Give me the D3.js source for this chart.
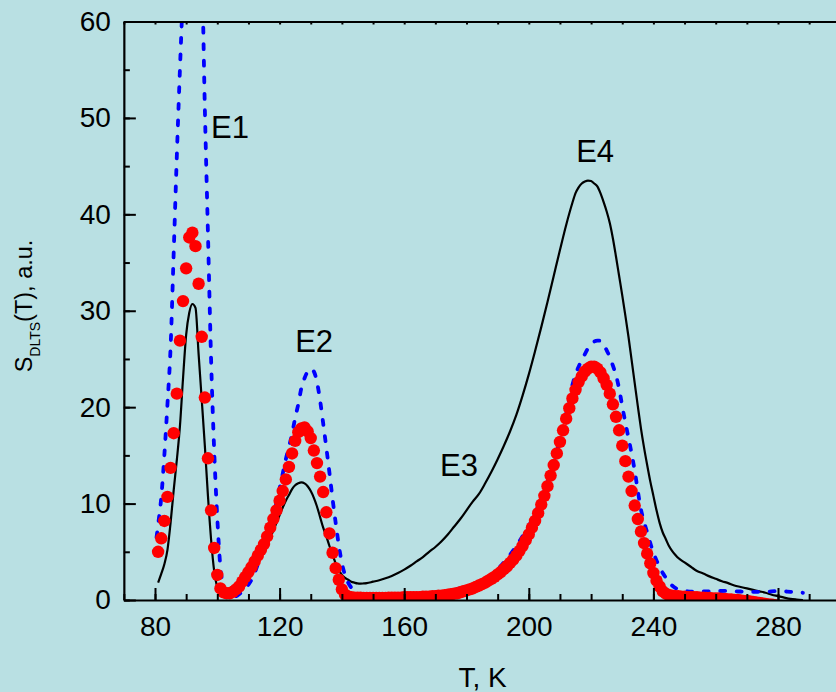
<!DOCTYPE html>
<html>
<head>
<meta charset="utf-8">
<script src="https://cdn.jsdelivr.net/npm/d3@7/dist/d3.min.js"></script>
<style>
  html, body { margin: 0; padding: 0; background: #b9e0e3; }
  svg { display: block; }
  text { font-family: Arial, "Liberation Sans", sans-serif; fill: #000; }
</style>
</head>
<body>
<svg id="chart" width="836" height="692"></svg>
<script>
// DLTS spectra S_DLTS(T): measured curve (black), model curve (blue dashed), fitted points (red)

// Measured spectrum, [T (K), signal]
const measured = [
  [81,1.8],[82,2.7],[83,3.7],[84,5.2],[85,8.0],[86,11.4],[87,14.5],[88,18.0],[89,23.0],[90,27.5],
  [91,29.8],[92,30.7],[93,30.3],[94,25.5],[95,20.8],[96,16.0],[97,10.8],[98,6.3],[99,3.0],[100,1.3],
  [101,0.6],[102,0.4],[103,0.35],[104,0.4],[105,0.55],[106,0.8],[107,1.1],[108,1.5],[109,1.9],[110,2.4],
  [111,2.9],[112,3.4],[113,3.9],[114,4.5],[115,5.1],[116,5.8],[117,6.5],[118,7.2],[119,8.0],[120,8.8],
  [121,9.6],[122,10.3],[123,10.9],[124,11.5],[125,11.9],[126,12.1],[127,12.2],[128,12.1],[129,11.8],[130,11.3],
  [131,10.6],[132,9.7],[133,8.6],[134,7.5],[135,6.6],[136,5.6],[137,4.7],[138,3.8],[139,3.1],[140,2.6],
  [141,2.3],[142,2.1],[143,1.9],[144,1.8],[145,1.72],[146,1.7],[147,1.72],[148,1.75],[150,1.9],[152,2.05],
  [154,2.25],[156,2.5],[158,2.8],[160,3.15],[162,3.55],[164,4.0],[166,4.45],[168,5.0],[170,5.5],[172,6.1],
  [174,6.8],[176,7.6],[178,8.4],[180,9.3],[182,10.2],[184,11.0],[186,12.1],[188,13.3],[190,14.6],[192,16.0],
  [194,17.5],[196,19.2],[198,21.2],[200,23.4],[202,25.8],[204,28.3],[206,30.9],[208,33.6],[210,36.3],[212,38.9],
  [214,41.2],[215,42.2],[216,42.8],[217,43.2],[218,43.4],[219,43.5],[220,43.45],[221,43.2],[222,42.9],[223,42.2],
  [224,41.3],[225,40.3],[226,39.1],[227,37.5],[228,35.6],[229,33.6],[230,31.6],[231,29.5],[232,27.3],[233,24.9],
  [234,22.5],[235,20.1],[236,17.8],[237,15.8],[238,14.0],[239,12.3],[240,10.8],[241,9.3],[242,8.0],[243,7.0],
  [244,6.3],[245,5.6],[246,5.1],[247,4.7],[248,4.35],[250,3.9],[252,3.45],[254,3.0],[256,2.75],[258,2.45],
  [260,2.2],[262,1.95],[264,1.75],[266,1.5],[268,1.35],[270,1.2],[272,1.05],[274,0.9],[276,0.75],[278,0.55],
  [280,0.4],[282,0.25],[284,0.12],[286,0.05],[288,0.0]
];

// Model spectrum, [T (K), signal]; the E1 top runs past the frame
const model = [
  [80.5,6.5],[81,7.8],[82,10.6],[83,15.0],[84,20.3],[85,26.2],[86,36.0],[87,46.0],[88,55.0],[89,63.0],
  [90,69],[91,72],[92,73],[93,72],[94,70],[95,66],[96,51],[97,38],[98,25],[99,15.5],
  [100,8.5],[101,3.4],[102,1.4],[103,0.7],[104,0.45],[105,0.35],[106,0.4],[107,0.6],[108,0.9],[109,1.2],
  [110,1.6],[111,2.1],[112,2.8],[113,3.7],[114,4.7],[115,5.8],[116,6.8],[117,7.7],[118,8.7],[119,10.1],
  [120,11.6],[121,13.1],[122,14.6],[123,15.9],[124,17.2],[125,18.9],[126,20.3],[127,22.0],[128,23.0],[129,23.7],
  [130,24.0],[131,23.7],[132,22.6],[133,20.7],[134,18.3],[135,15.8],[136,13.2],[137,10.5],[138,8.0],[139,5.7],
  [140,3.8],[141,2.6],[142,1.8],[143,1.3],[144,1.0],[145,0.7],[146,0.5],[147,0.4],[148,0.35],[150,0.3],
  [155,0.3],[160,0.3],[165,0.35],[168,0.45],[170,0.55],[172,0.7],[174,0.9],[176,1.1],[178,1.2],[180,1.35],
  [182,1.5],[184,1.8],[186,2.1],[188,2.6],[190,3.2],[192,3.9],[194,4.7],[196,5.6],[198,6.6],[200,7.7],
  [201,8.3],[202,9.0],[203,9.7],[204,10.5],[205,11.3],[206,12.2],[207,13.2],[208,14.3],[209,15.4],[210,16.6],
  [211,17.9],[212,19.3],[213,20.8],[214,22.3],[215,23.4],[216,24.2],[217,24.9],[218,25.5],[219,26.1],[220,26.5],
  [221,26.8],[222,26.9],[223,26.9],[224,26.5],[225,25.9],[226,25.2],[227,24.3],[228,23.3],[229,21.9],[230,20.1],
  [231,18.4],[232,16.8],[233,15.2],[234,13.4],[235,11.3],[236,9.4],[237,8.1],[238,7.0],[239,5.9],[240,4.9],
  [241,4.1],[242,3.4],[243,2.8],[244,2.3],[245,1.8],[246,1.5],[247,1.25],[248,1.1],[250,0.95],[253,0.85],
  [256,0.88],[260,0.92],[264,0.95],[268,0.88],[272,0.85],[276,0.86],[280,0.92],[284,0.85],[288,0.75]
];

// Fitted points, one every 1 K starting at 81 K
const fitStartT = 81;
const fitValues = [
  5.0, 6.4, 8.2, 10.7, 13.7, 17.3, 21.4, 26.9, 31.0, 34.4,          // 81-90
  37.6, 38.1, 36.7, 32.8, 27.3, 21.0, 14.7, 9.3, 5.4, 2.6,          // 91-100
  1.2, 0.8, 0.7, 0.7, 0.85, 1.1, 1.4, 1.9, 2.4, 2.9,                // 101-110
  3.4, 4.0, 4.6, 5.2, 5.8, 6.6, 7.5, 8.4, 9.3, 10.3,                // 111-120
  11.3, 12.5, 13.8, 15.2, 16.5, 17.4, 17.8, 17.9, 17.5, 16.8,       // 121-130
  15.5, 14.2, 12.8, 11.2, 9.1, 6.9, 4.9, 3.3, 2.1, 1.1,             // 131-140
  0.55, 0.35, 0.3, 0.25, 0.25, 0.25, 0.2, 0.2, 0.2, 0.2,            // 141-150
  0.2, 0.2, 0.2, 0.2, 0.25, 0.25, 0.25, 0.25, 0.25, 0.3,            // 151-160
  0.3, 0.3, 0.3, 0.3, 0.3, 0.35, 0.35, 0.35, 0.4, 0.4,              // 161-170
  0.45, 0.45, 0.5, 0.55, 0.6, 0.65, 0.7, 0.8, 0.9, 1.0,             // 171-180
  1.1, 1.2, 1.35, 1.5, 1.65, 1.8, 2.0, 2.2, 2.4, 2.65,              // 181-190
  2.9, 3.2, 3.5, 3.85, 4.2, 4.6, 5.1, 5.6, 6.2, 6.8,                // 191-200
  7.5, 8.2, 9.0, 9.9, 10.8, 11.8, 12.9, 14.0, 15.2, 16.4,           // 201-210
  17.6, 18.8, 19.9, 20.9, 21.8, 22.6, 23.2, 23.7, 24.0, 24.2,       // 211-220
  24.2, 24.0, 23.6, 23.0, 22.3, 21.4, 20.3, 19.0, 17.6, 16.0,       // 221-230
  14.4, 12.8, 11.3, 9.8, 8.4, 7.1, 5.9, 4.8, 3.8, 2.8,              // 231-240
  2.0, 1.4, 0.9, 0.65, 0.5, 0.45, 0.4, 0.4, 0.35, 0.35,             // 241-250
  0.3, 0.3, 0.3, 0.3, 0.25, 0.25, 0.2, 0.2, 0.15, 0.15,             // 251-260
  0.15, 0.1, 0.1, 0.05, 0.05, 0.0, 0.0, -0.05, -0.1, -0.1,          // 261-270
  -0.15, -0.2, -0.25, -0.3, -0.35, -0.4, -0.45, -0.5, -0.55, -0.6,  // 271-280
  -0.62, -0.64, -0.66, -0.68                                         // 281-284
];
const fitted = fitValues.map((v, i) => [fitStartT + i, v]);

// Axis settings
const xDomain = [70, 300];
const yDomain = [0, 60];
const xTickLabels = [80, 120, 160, 200, 240, 280];
const yTickLabels = [0, 10, 20, 30, 40, 50, 60];

// Peak labels
const peakLabels = [
  { text: "E1", T: 98.0, S: 47.9 },
  { text: "E2", T: 125.0, S: 25.7 },
  { text: "E3", T: 171.5, S: 12.9 },
  { text: "E4", T: 215.2, S: 45.4 }
];

const svg = d3.select("#chart");
const W = 836, H = 692;
const plot = { left: 123.85, right: 840.3, top: 21.5, bottom: 600 };

const x = d3.scaleLinear().domain(xDomain).range([plot.left, plot.right]);
const y = d3.scaleLinear().domain(yDomain).range([plot.bottom, plot.top]);

svg.append("rect").attr("width", W).attr("height", H).attr("fill", "#b9e0e3");

svg.append("defs").append("clipPath").attr("id", "plotClip")
  .append("rect")
  .attr("x", plot.left).attr("y", plot.top)
  .attr("width", plot.right - plot.left).attr("height", plot.bottom - plot.top);

const series = svg.append("g").attr("clip-path", "url(#plotClip)");

const line = d3.line()
  .x(d => x(d[0]))
  .y(d => y(d[1]))
  .curve(d3.curveMonotoneX);

series.append("path")
  .datum(measured)
  .attr("fill", "none")
  .attr("stroke", "#000")
  .attr("stroke-width", 2.2)
  .attr("stroke-linejoin", "round")
  .attr("d", line);

series.append("path")
  .datum(model)
  .attr("fill", "none")
  .attr("stroke", "#0000ff")
  .attr("stroke-width", 3.8)
  .attr("stroke-linecap", "round")
  .attr("stroke-dasharray", "5 11.5")
  .attr("d", line);

series.append("g")
  .selectAll("circle")
  .data(fitted)
  .join("circle")
  .attr("cx", d => x(d[0]))
  .attr("cy", d => y(d[1]))
  .attr("r", 6.2)
  .attr("fill", "#ff0000");

// Axes: ticks point into the frame
const axisStyle = g => {
  g.selectAll("path.domain").attr("stroke", "#000").attr("stroke-width", 2.2);
  g.selectAll(".tick line").attr("stroke", "#000").attr("stroke-width", 2);
};

// bottom minor + major
svg.append("g")
  .attr("transform", `translate(0,${plot.bottom})`)
  .call(d3.axisBottom(x).ticks(23).tickSize(-6).tickSizeOuter(0).tickFormat(""))
  .call(axisStyle);
const xAxis = svg.append("g")
  .attr("transform", `translate(0,${plot.bottom})`)
  .call(d3.axisBottom(x).tickValues(xTickLabels).tickSize(-12).tickSizeOuter(0).tickPadding(16))
  .call(axisStyle);
xAxis.select("path.domain").remove();
xAxis.selectAll("text").attr("font-size", 28).attr("fill", "#000")
  .style("font-family", 'Arial, "Liberation Sans", sans-serif');

// left minor + major
svg.append("g")
  .attr("transform", `translate(${plot.left},0)`)
  .call(d3.axisLeft(y).ticks(12).tickSize(-6).tickSizeOuter(0).tickFormat(""))
  .call(axisStyle);
const yAxis = svg.append("g")
  .attr("transform", `translate(${plot.left},0)`)
  .call(d3.axisLeft(y).tickValues(yTickLabels).tickSize(-12).tickSizeOuter(0).tickPadding(13))
  .call(axisStyle);
yAxis.select("path.domain").remove();
yAxis.selectAll("text").attr("font-size", 28).attr("fill", "#000")
  .style("font-family", 'Arial, "Liberation Sans", sans-serif');

// top frame with small inward ticks
svg.append("g")
  .attr("transform", `translate(0,${plot.top})`)
  .call(d3.axisTop(x).ticks(23).tickSize(-3).tickSizeOuter(0).tickFormat(""))
  .call(axisStyle);

// Axis titles
svg.append("text")
  .attr("x", 482.5).attr("y", 687)
  .attr("text-anchor", "middle")
  .attr("font-size", 28)
  .text("T, K");

const yTitle = svg.append("text")
  .attr("transform", "translate(32,306) rotate(-90)")
  .attr("text-anchor", "middle")
  .attr("font-size", 23.5);
yTitle.append("tspan").text("S");
yTitle.append("tspan").attr("font-size", 14).attr("dy", 8).text("DLTS");
yTitle.append("tspan").attr("dy", -8).text("(T), a.u.");

// Peak labels
svg.append("g")
  .selectAll("text")
  .data(peakLabels)
  .join("text")
  .attr("x", d => x(d.T))
  .attr("y", d => y(d.S))
  .attr("font-size", 31)
  .text(d => d.text);
</script>
</body>
</html>
